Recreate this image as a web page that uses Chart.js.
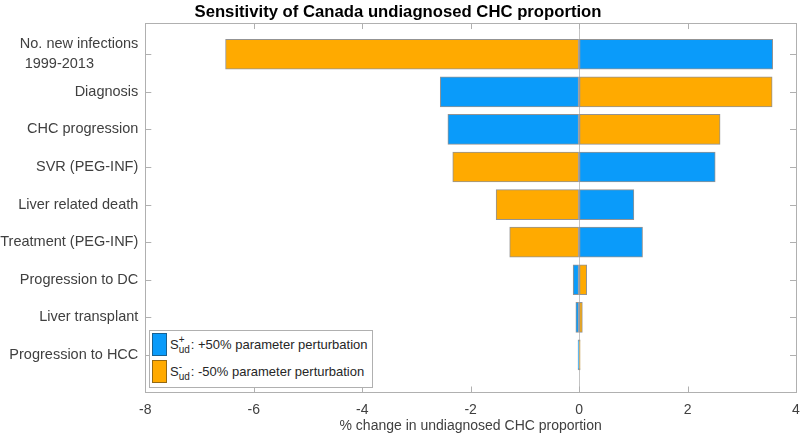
<!DOCTYPE html>
<html>
<head>
<meta charset="utf-8">
<script src="https://cdn.jsdelivr.net/npm/chart.js@4"></script>
<style>
  body { margin: 0; background: #fff; }
  #wrap { position: relative; width: 800px; height: 436px; }
  #legend {
    position: absolute; left: 149px; top: 330px; width: 222px; height: 56px;
    border: 1px solid #b0b0b0; background: #fff;
    font-family: "Liberation Sans", Arial, Helvetica, sans-serif; font-size: 13px; color: #262626;
  }
  .row { position: absolute; left: 2px; display: flex; align-items: center; height: 22px; }
  .sw { width: 13px; height: 21px; border: 1px solid rgba(40,40,40,0.5); margin-right: 3px; }
  .ss { display: inline-flex; flex-direction: column; font-size: 10px; line-height: 10px; margin-right: 1px; margin-top: 2px; }
</style>
</head>
<body>
<div id="wrap">
  <canvas id="chart" width="800" height="436"></canvas>
  <div id="legend">
    <div class="row" style="top:2px"><div class="sw" style="background:#0A9BFA"></div>S<span class="ss"><span>+</span><span>ud</span></span>: +50% parameter perturbation</div>
    <div class="row" style="top:29px"><div class="sw" style="background:#FFAA00"></div>S<span class="ss"><span>-</span><span>ud</span></span>: -50% parameter perturbation</div>
  </div>
</div>
<script>
const labels = [
  'No. new infections\n1999-2013',
  'Diagnosis',
  'CHC progression',
  'SVR (PEG-INF)',
  'Liver related death',
  'Treatment (PEG-INF)',
  'Progression to DC',
  'Liver transplant',
  'Progression to HCC'
];
const plusValues = [3.57, -2.56, -2.42, 2.51, 1.01, 1.17, -0.11, -0.06, -0.02];
const minusValues = [-6.52, 3.56, 2.60, -2.33, -1.53, -1.28, 0.14, 0.06, 0.02];
const xTicks = [-8, -6, -4, -2, 0, 2, 4];

const font = '"Liberation Sans", Arial, Helvetica, sans-serif';
const boxColor = '#b0b0b0';

// MATLAB style box with inward ticks
const boxPlugin = {
  id: 'box',
  afterDraw(chart) {
    const { ctx, chartArea: a, scales: { x, y } } = chart;
    ctx.save();
    ctx.strokeStyle = boxColor;
    ctx.lineWidth = 1;
    ctx.strokeRect(Math.round(a.left) + 0.5, Math.round(a.top) + 0.5,
      Math.round(a.right - a.left), Math.round(a.bottom - a.top));
    ctx.beginPath();
    xTicks.forEach(v => {
      const px = Math.round(x.getPixelForValue(v)) + 0.5;
      ctx.moveTo(px, a.bottom); ctx.lineTo(px, a.bottom - 6);
      ctx.moveTo(px, a.top); ctx.lineTo(px, a.top + 6);
    });
    labels.forEach((_, i) => {
      const py = Math.round(y.getPixelForValue(i + 1)) + 0.5;
      ctx.moveTo(a.left, py); ctx.lineTo(a.left + 6, py);
      ctx.moveTo(a.right, py); ctx.lineTo(a.right - 6, py);
    });
    ctx.stroke();
    ctx.restore();
  }
};

new Chart(document.getElementById('chart'), {
  type: 'bar',
  data: {
    datasets: [
      {
        label: 'S+ud: +50% parameter perturbation',
        data: plusValues.map((v, i) => ({ x: v, y: i + 1 })),
        backgroundColor: '#0A9BFA'
      },
      {
        label: 'S-ud: -50% parameter perturbation',
        data: minusValues.map((v, i) => ({ x: v, y: i + 1 })),
        backgroundColor: '#FFAA00'
      }
    ]
  },
  options: {
    indexAxis: 'y',
    responsive: false,
    animation: false,
    layout: { padding: { right: 4, left: 0, top: 0, bottom: 0 } },
    datasets: {
      bar: {
        grouped: false,
        barThickness: 30,
        borderWidth: 1,
        borderColor: 'rgba(40,40,40,0.5)',
        borderSkipped: false
      }
    },
    plugins: {
      legend: { display: false },
      tooltip: { enabled: false },
      title: {
        display: true,
        text: 'Sensitivity of Canada undiagnosed CHC proportion',
        color: '#000',
        font: { family: font, size: 16.7, weight: 'bold' },
        padding: { top: 2, bottom: 1 }
      }
    },
    scales: {
      x: {
        type: 'linear',
        min: -8,
        max: 4,
        afterBuildTicks: s => { s.ticks = xTicks.map(v => ({ value: v })); },
        afterFit: s => { s.height = 43.5; s.paddingLeft = 0; s.paddingRight = 0; },
        ticks: { color: '#404040', font: { family: font, size: 14 }, padding: 9, autoSkip: false },
        grid: {
          drawTicks: false,
          color: c => (c.tick && c.tick.value === 0 ? '#c4c4c4' : 'rgba(0,0,0,0)')
        },
        border: { display: false },
        title: {
          display: true,
          text: '% change in undiagnosed CHC proportion',
          color: '#404040',
          font: { family: font, size: 14 },
          padding: { top: 0, bottom: 1 }
        }
      },
      y: {
        type: 'linear',
        reverse: true,
        offset: false,
        min: 0.17,
        max: 10,
        afterBuildTicks: s => { s.ticks = labels.map((_, i) => ({ value: i + 1 })); },
        afterFit: s => { s.width = 145.3; s.paddingTop = 0; s.paddingBottom = 0; },
        ticks: {
          color: '#404040',
          font: { family: font, size: 14.5, lineHeight: 1.4 },
          padding: 7,
          autoSkip: false,
          callback: v => {
            const parts = labels[v - 1].split('\n');
            if (parts.length > 1) return [parts[0], parts[1] + ' '.repeat(11)];
            return parts[0];
          }
        },
        grid: { display: false, drawTicks: false },
        border: { display: false }
      }
    }
  },
  plugins: [boxPlugin]
});
</script>
</body>
</html>
